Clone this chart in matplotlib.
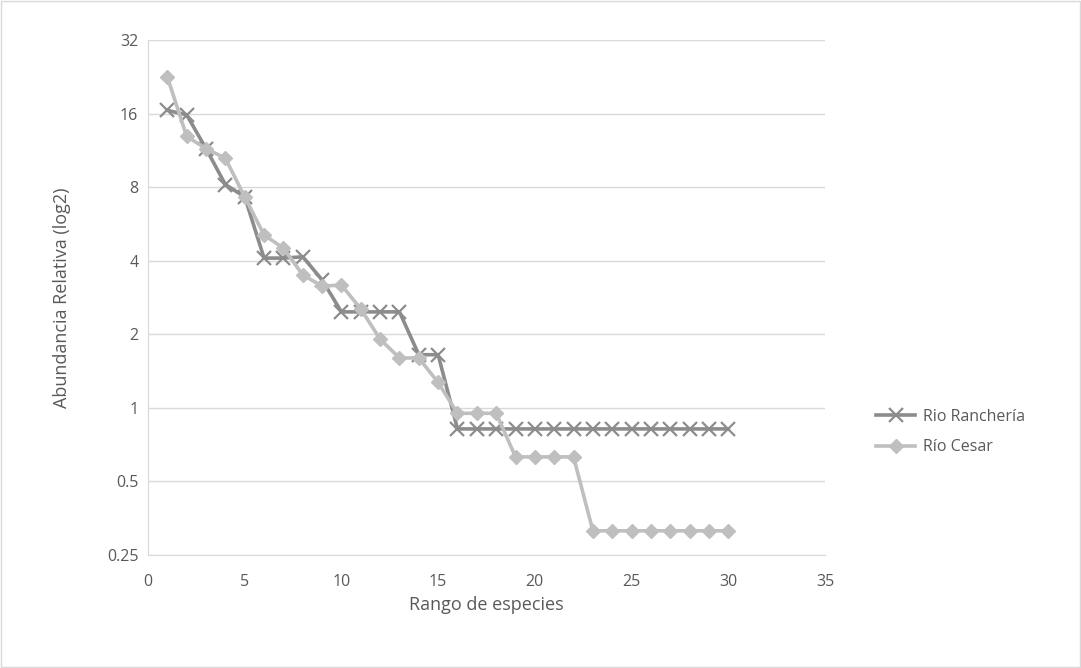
import matplotlib
matplotlib.use("Agg")
import matplotlib.pyplot as plt
from matplotlib.ticker import FixedLocator, FixedFormatter, NullLocator
from matplotlib.patches import Rectangle

rank = list(range(1, 31))
rancheria = [16.5, 15.8, 11.5, 8.2, 7.3, 4.1, 4.1, 4.15, 3.34, 2.47, 2.47, 2.47, 2.47,
             1.65, 1.65] + [0.82] * 15
cesar = [22.6, 12.9, 11.5, 10.5, 7.3, 5.1, 4.5, 3.5, 3.15, 3.18, 2.54, 1.91, 1.6, 1.6,
         1.27, 0.95, 0.95, 0.95, 0.63, 0.63, 0.63, 0.63] + [0.314] * 8
yticks = [0.25, 0.5, 1, 2, 4, 8, 16, 32]
ytick_labels = ["0.25", "0.5", "1", "2", "4", "8", "16", "32"]
xticks = [0, 5, 10, 15, 20, 25, 30, 35]

plt.rcParams['font.family'] = ['Open Sans', 'DejaVu Sans']

fig = plt.figure(figsize=(10.81, 6.68), dpi=100)
ax = fig.add_axes([148/1081, 1 - 555/668, (825-148)/1081, (555-40)/668])

ax.plot(rank, rancheria, color='#8c8c8c', lw=2.6, marker='x', ms=9.5, mew=1.6,
        label='Rio Ranchería', zorder=3)
ax.plot(rank, cesar, color='#bfbfbf', lw=2.6, marker='D', ms=7,
        label='Río Cesar', zorder=4)

ax.set_yscale('log', base=2)
ax.set_ylim(0.25, 32)
ax.set_xlim(0, 35)
ax.yaxis.set_major_locator(FixedLocator(yticks))
ax.yaxis.set_major_formatter(FixedFormatter(ytick_labels))
ax.yaxis.set_minor_locator(NullLocator())
ax.set_xticks(xticks)

ax.grid(axis='y', color='#d9d9d9', lw=1)
ax.set_axisbelow(True)
for s in ['top', 'right']:
    ax.spines[s].set_visible(False)
ax.spines['left'].set_color('#d9d9d9')
ax.spines['bottom'].set_color('#d9d9d9')
ax.tick_params(axis='both', length=0, labelsize=11.5, colors='#595959')
ax.tick_params(axis='y', pad=7)
ax.tick_params(axis='x', pad=14)

ax.set_xlabel('Rango de especies', fontsize=13, color='#595959', va='center')
ax.set_ylabel('Abundancia Relativa (log2)', fontsize=13, color='#595959', va='center')
ax.xaxis.set_label_coords(0.5, (555 - 605) / 515)
ax.yaxis.set_label_coords((62 - 148) / 677, 0.5)

leg = ax.legend(loc='center left', bbox_to_anchor=(862/1081, 1 - 432/668),
                bbox_transform=fig.transFigure, frameon=False, fontsize=11.5,
                labelcolor='#595959', handlelength=2.4, handletextpad=0.5,
                labelspacing=0.9)

fig.patches.append(Rectangle((1/1081, 1/668), 1 - 2/1081, 1 - 2/668,
                             transform=fig.transFigure, fill=False,
                             edgecolor='#d9d9d9', lw=1))

fig.savefig('out.png', dpi=100)
